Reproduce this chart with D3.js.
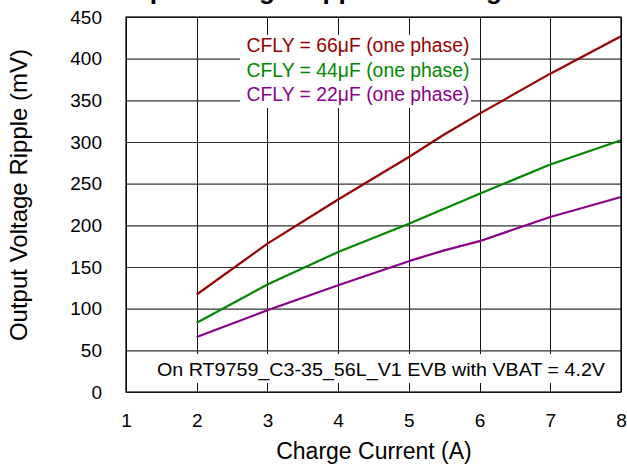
<!DOCTYPE html>
<html>
<head>
<meta charset="utf-8">
<script src="https://cdn.jsdelivr.net/npm/d3@7"></script>
<style>
  html, body { margin: 0; padding: 0; background: #fff; }
  svg { display: block; font-family: "Liberation Sans", Arial, sans-serif; }
</style>
</head>
<body>
<svg id="chart" width="627" height="468"></svg>
<script>
// ---- data ----
const current = [2, 3, 4, 5, 5.5, 6, 7, 8];
const cfly66 = [117, 178, 231, 282, 309, 334, 382, 427];
const cfly44 = [83, 129, 168, 202, 220, 238, 273, 302];
const cfly22 = [66, 98, 128, 157, 170, 181, 210, 234];
const seriesNames = ["CFLY = 66\u03BCF (one phase)", "CFLY = 44\u03BCF (one phase)", "CFLY = 22\u03BCF (one phase)"];
const seriesColors = ["#990000", "#008800", "#8B008B"];
const xTicks = [1, 2, 3, 4, 5, 6, 7, 8];
const yTicks = [0, 50, 100, 150, 200, 250, 300, 350, 400, 450];
const titleText = "Output Voltage Ripple vs. Charge Current";
const xTitle = "Charge Current (A)";
const yTitle = "Output Voltage Ripple (mV)";
const note = "On RT9759_C3-35_56L_V1 EVB with VBAT = 4.2V";

const svg = d3.select("#chart");
const L = 126, R = 621, T = 17, B = 392;
const x = d3.scaleLinear().domain([1, 8]).range([L, R]);
const y = d3.scaleLinear().domain([0, 450]).range([B, T]);

svg.append("rect").attr("width", 627).attr("height", 468).attr("fill", "#fff");

// title (mostly cut off above, as in the reference)
svg.append("text").attr("x", 105).attr("y", -1)
  .attr("font-size", 26).attr("font-weight", "bold").attr("fill", "#000")
  .text(titleText);

// grid via axes
const gx = svg.append("g").attr("transform", `translate(0,${B})`)
  .call(d3.axisBottom(x).tickValues(xTicks).tickSize(-(B - T)).tickSizeOuter(0).tickPadding(0).tickFormat(""));
gx.select(".domain").remove();
gx.selectAll("line").attr("stroke", "#111").attr("stroke-width", 1).attr("shape-rendering", "crispEdges");

const gy = svg.append("g").attr("transform", `translate(${L},0)`)
  .call(d3.axisLeft(y).tickValues(yTicks).tickSize(-(R - L)).tickSizeOuter(0).tickFormat(""));
gy.select(".domain").remove();
gy.selectAll("line").attr("stroke", "#333").attr("stroke-width", 1.2);

// legend box
svg.append("rect").attr("x", 240).attr("y", 35).attr("width", 231).attr("height", 73).attr("fill", "#fff");
// note box
svg.append("rect").attr("x", L + 1).attr("y", 354).attr("width", R - L - 2).attr("height", 29).attr("fill", "#fff");

// lines
const series = [cfly66, cfly44, cfly22];
const line = d3.line().x((d, i) => x(current[i])).y(d => y(d));
series.forEach((s, k) => {
  svg.append("path").datum(s).attr("d", line)
    .attr("fill", "none").attr("stroke", seriesColors[k]).attr("stroke-width", 2.2)
    .attr("stroke-linejoin", "round");
});

// frame
svg.append("rect").attr("x", L).attr("y", T).attr("width", R - L).attr("height", B - T)
  .attr("fill", "none").attr("stroke", "#000").attr("stroke-width", 1.2);

// tick labels with axes
const xl = svg.append("g").attr("transform", `translate(0,${B})`)
  .call(d3.axisBottom(x).tickValues(xTicks).tickSize(0).tickPadding(22).tickFormat(d3.format("d")));
xl.select(".domain").remove();
xl.selectAll("text").attr("font-size", 19).attr("font-family", "Liberation Sans, Arial, sans-serif").attr("fill", "#000");

const yl = svg.append("g").attr("transform", `translate(102,0)`)
  .call(d3.axisLeft(y).tickValues(yTicks).tickSize(0).tickPadding(0).tickFormat(d3.format("d")));
yl.select(".domain").remove();
yl.selectAll("text").attr("font-size", 19).attr("font-family", "Liberation Sans, Arial, sans-serif").attr("fill", "#000");

// legend texts
seriesNames.forEach((n, k) => {
  svg.append("text").attr("x", 246.5).attr("y", 52 + k * 24.5)
    .attr("font-size", 20).attr("fill", seriesColors[k])
    .attr("textLength", 223).attr("lengthAdjust", "spacingAndGlyphs")
    .text(n);
});

// note
svg.append("text").attr("x", 157).attr("y", 376)
  .attr("font-size", 19).attr("fill", "#000")
  .attr("textLength", 448).attr("lengthAdjust", "spacingAndGlyphs")
  .text(note);

// axis titles
svg.append("text").attr("x", 374).attr("y", 459).attr("text-anchor", "middle")
  .attr("font-size", 23).attr("fill", "#000").text(xTitle);
svg.append("text").attr("transform", "translate(27,195) rotate(-90)").attr("text-anchor", "middle")
  .attr("font-size", 24).attr("fill", "#000").text(yTitle);
</script>
</body>
</html>
